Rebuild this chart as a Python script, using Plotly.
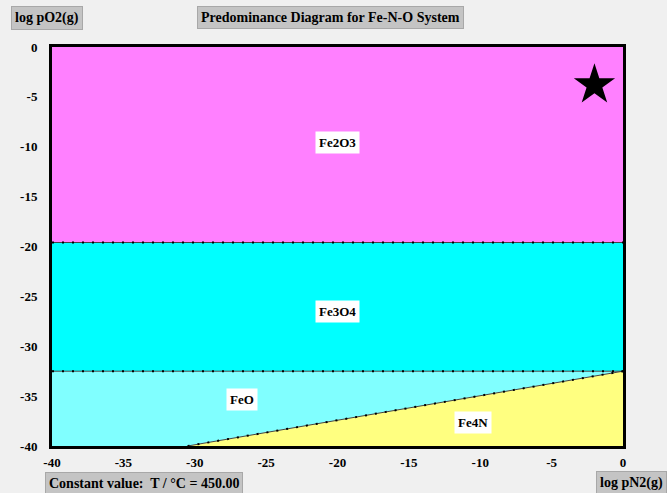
import plotly.graph_objects as go

# Data
ticks = [-40, -35, -30, -25, -20, -15, -10, -5, 0]
b_fe2o3_fe3o4 = -19.6          # log pO2 boundary Fe2O3 / Fe3O4
b_fe3o4_feo = -32.5            # log pO2 boundary Fe3O4 / FeO
feo_fe4n_x = [-30.5, 0.0]      # FeO / Fe4N boundary line, log pN2
feo_fe4n_y = [-40.0, -32.5]    # FeO / Fe4N boundary line, log pO2
labels = ["Fe2O3", "Fe3O4", "FeO", "Fe4N"]
label_x = [-20.0, -20.0, -26.7, -10.5]
label_y = [-9.6, -26.5, -35.3, -37.6]
star_x = [-2.0]
star_y = [-3.8]
colors = {"Fe2O3": "#ff80ff", "Fe3O4": "#00ffff", "FeO": "#80ffff", "Fe4N": "#ffff80"}

xmin, xmax, ymin, ymax = -40, 0, -40, 0
serif = "Liberation Serif"

fig = go.Figure()

regions = {
    "Fe2O3": ([xmin, xmax, xmax, xmin], [b_fe2o3_fe3o4, b_fe2o3_fe3o4, ymax, ymax]),
    "Fe3O4": ([xmin, xmax, xmax, xmin], [b_fe3o4_feo, b_fe3o4_feo, b_fe2o3_fe3o4, b_fe2o3_fe3o4]),
    "FeO": ([xmin, feo_fe4n_x[0], feo_fe4n_x[1], xmin],
            [ymin, feo_fe4n_y[0], feo_fe4n_y[1], b_fe3o4_feo]),
    "Fe4N": ([feo_fe4n_x[0], feo_fe4n_x[1], xmax], [feo_fe4n_y[0], feo_fe4n_y[1], ymin]),
}
for name, (xs, ys) in regions.items():
    fig.add_trace(go.Scatter(x=xs + [xs[0]], y=ys + [ys[0]], mode="lines", fill="toself",
                             fillcolor=colors[name], line=dict(width=0),
                             hoverinfo="skip", showlegend=False))

# boundary lines
for xs, ys in [([xmin, xmax], [b_fe2o3_fe3o4] * 2), ([xmin, xmax], [b_fe3o4_feo] * 2),
               (feo_fe4n_x, feo_fe4n_y)]:
    fig.add_trace(go.Scatter(x=xs, y=ys, mode="lines", line=dict(color="#444444", width=1),
                             showlegend=False, hoverinfo="skip"))
    fig.add_trace(go.Scatter(x=xs, y=ys, mode="lines", line=dict(color="black", width=2, dash="2px,8px"),
                             showlegend=False, hoverinfo="skip"))

fig.add_trace(go.Scatter(x=star_x, y=star_y, mode="markers",
                         marker=dict(symbol="star", size=31, color="black"),
                         showlegend=False, hoverinfo="skip"))

for t, x, y in zip(labels, label_x, label_y):
    fig.add_annotation(x=x, y=y, text="<b>%s</b>" % t, showarrow=False,
                       bgcolor="white", font=dict(family=serif, size=13, color="black"),
                       borderpad=3)

def box(text, x, y, xanchor):
    fig.add_annotation(xref="paper", yref="paper", x=x, y=y, xanchor=xanchor, yanchor="middle",
                       text="<b>%s</b>" % text, showarrow=False, bgcolor="#c4c4c4",
                       bordercolor="#a8a8a8", borderwidth=1, borderpad=3,
                       font=dict(family=serif, size=14, color="black"))

box("log pO2(g)", -0.009, 1.073, "center")
box("Predominance Diagram for Fe-N-O System", 0.487, 1.073, "center")
box("Constant value:  T / °C = 450.00", -0.012, -0.093, "left")
box("log pN2(g)", 0.952, -0.093, "left")

axis_common = dict(range=[xmin, xmax], tickvals=ticks, ticktext=[str(t) for t in ticks],
                   showgrid=False, zeroline=False, showline=True, linecolor="black",
                   linewidth=3, mirror=True, ticks="",
                   tickfont=dict(family=serif, size=13, color="black", weight="bold"))
fig.update_xaxes(**axis_common)
fig.update_yaxes(**axis_common)
fig.update_yaxes(range=[ymin, ymax], ticklabelstandoff=9)
fig.update_xaxes(ticklabelstandoff=2)

fig.update_layout(width=667, height=493, margin=dict(l=52, r=44, t=47, b=47),
                  paper_bgcolor="#f0f0f0", plot_bgcolor="white")

fig.write_html("out.html", config={"displayModeBar": False},
               post_script="document.body.style.margin='0';document.body.style.background='#f0f0f0';")
